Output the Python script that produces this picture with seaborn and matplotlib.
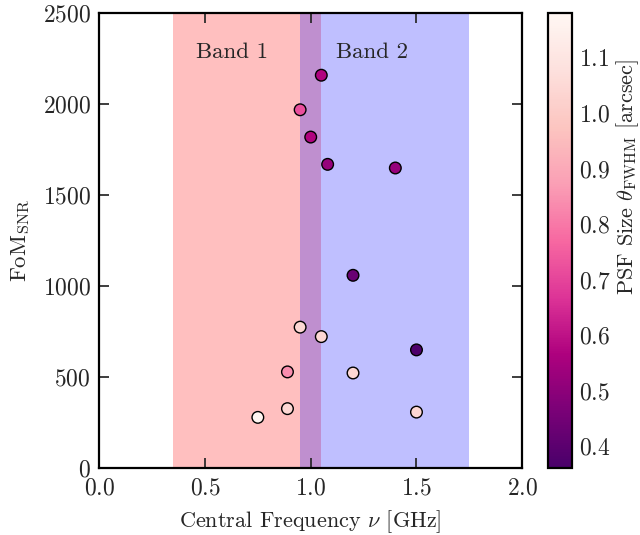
import numpy as np
import pandas as pd
import matplotlib
matplotlib.use("Agg")
import matplotlib.pyplot as plt
from matplotlib.colors import Normalize
from matplotlib.cm import ScalarMappable
import seaborn as sns

# Survey configurations: central frequency, figure of merit and PSF size
freq_ghz = [1.05, 0.95, 1.00, 1.08, 1.40, 1.20, 0.95, 1.05, 1.50, 0.89, 1.20, 0.89, 0.75, 1.50]
fom_snr = [2160, 1970, 1820, 1670, 1650, 1060, 775, 723, 650, 529, 523, 327, 279, 308]
psf_fwhm = [0.57, 0.72, 0.57, 0.52, 0.52, 0.43, 1.04, 1.04, 0.37, 0.84, 1.04, 1.04, 1.17, 1.04]

# Receiver bands (GHz)
band_names = ["Band 1", "Band 2"]
band_lo = [0.35, 0.95]
band_hi = [1.05, 1.75]
band_colors = ["red", "blue"]
band_label_x = [0.63, 1.29]

psf_min, psf_max = 0.36, 1.18

sns.set_theme(style="ticks")
plt.rcParams.update({
    "font.family": ["cmr10", "DejaVu Serif"],
    "mathtext.fontset": "cm",
    "axes.formatter.use_mathtext": True,
    "axes.unicode_minus": False,
    "xtick.direction": "in",
    "ytick.direction": "in",
    "xtick.top": True,
    "ytick.right": True,
    "xtick.major.size": 7,
    "ytick.major.size": 7,
    "xtick.major.pad": 7,
    "ytick.major.pad": 6,
    "xtick.labelsize": 17,
    "ytick.labelsize": 17,
    "axes.linewidth": 1.6,
    "axes.edgecolor": "black",
})

df = pd.DataFrame({"freq": freq_ghz, "fom": fom_snr, "psf": psf_fwhm})

fig = plt.figure(figsize=(6.4, 5.35), dpi=100)
ax = fig.add_axes([0.155, 0.125, 0.661, 0.850])
cax = fig.add_axes([0.856, 0.125, 0.0375, 0.850])

for name, lo, hi, col, lx in zip(band_names, band_lo, band_hi, band_colors, band_label_x):
    ax.axvspan(lo, hi, facecolor=col, alpha=0.25, lw=0, zorder=0)
    ax.text(lx, 2285, name, fontsize=16.5, ha="center", va="center")

norm = Normalize(vmin=psf_min, vmax=psf_max)
sns.scatterplot(data=df, x="freq", y="fom", hue="psf", palette="RdPu_r",
                hue_norm=norm, s=70, edgecolor="black", linewidth=1.0,
                legend=False, ax=ax, zorder=3)

ax.set_xlim(0.0, 2.0)
ax.set_ylim(0, 2500)
ax.set_xticks([0.0, 0.5, 1.0, 1.5, 2.0])
ax.set_yticks([0, 500, 1000, 1500, 2000, 2500])
ax.set_xlabel(r"Central Frequency $\nu$ [GHz]", fontsize=16, labelpad=6)
ax.set_ylabel(r"FoM$_{\rm SNR}$", fontsize=16.5, labelpad=8)

sm = ScalarMappable(norm=norm, cmap="RdPu_r")
cb = fig.colorbar(sm, cax=cax)
cb.set_ticks([0.4, 0.5, 0.6, 0.7, 0.8, 0.9, 1.0, 1.1])
cb.ax.tick_params(direction="in", length=7, labelsize=17, width=1, pad=5)
cb.outline.set_linewidth(1.6)
cb.set_label(r"PSF Size $\theta_{\rm FWHM}$ [arcsec]", fontsize=16)
cax.yaxis.set_label_coords(2.76, 0.64)

fig.savefig("out.png", dpi=100)
